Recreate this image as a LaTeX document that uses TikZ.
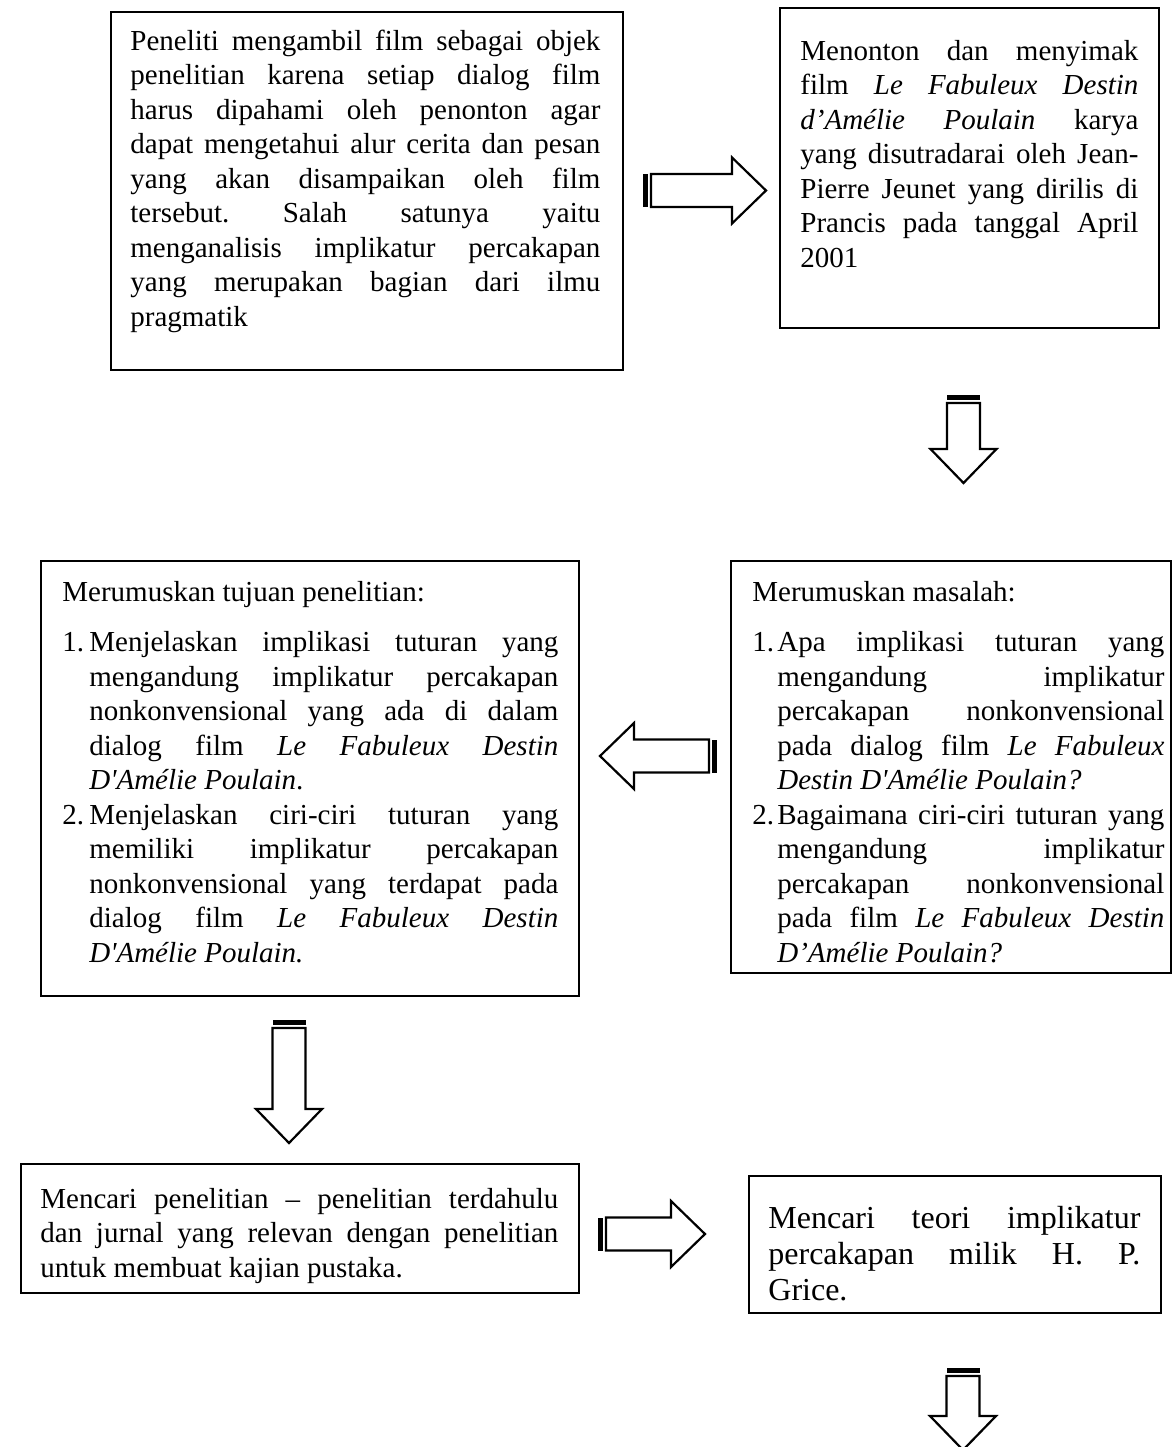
\documentclass[tikz,border=0pt]{standalone}
\usepackage{fontspec}
\setmainfont{Liberation Serif}
\newcommand{\bodyfont}{\fontsize{14.5}{17.25}\selectfont}
\newcommand{\numitem}[3]{\par\hangindent=#1\hangafter=1\makebox[#1][l]{#2}#3\par}
\tolerance=10000 \hbadness=10000
\frenchspacing
\tikzset{
  box/.style={draw, line width=1.2pt, inner sep=0pt, anchor=north west},
  txt/.style={anchor=base west, inner sep=0pt, align=justify, font=\bodyfont},
  pics/fatarrow/.style={code={
    \fill (0,-16.5) rectangle (5,16.5);
    \draw[line width=1.1pt, fill=white] (8,-16.5) -- (#1-34,-16.5) -- (#1-34,-33) -- (#1,0) -- (#1-34,33) -- (#1-34,16.5) -- (8,16.5) -- cycle;
  }}
}
\begin{document}
\begin{tikzpicture}[x=0.5pt,y=-0.5pt]
\useasboundingbox (0,0) rectangle (1172,1447);
\node[box, minimum width=256pt, minimum height=179pt] (b1) at (110,11) {};
\node[box, minimum width=189.5pt, minimum height=160pt] (b2) at (779,7) {};
\node[box, minimum width=269pt, minimum height=217.5pt] (b3) at (40,560) {};
\node[box, minimum width=220pt, minimum height=206pt] (b4) at (730,560) {};
\node[box, minimum width=279pt, minimum height=64.5pt] (b5) at (20,1163) {};
\node[box, minimum width=206pt, minimum height=68.5pt] (b6) at (748,1175) {};

\node[txt, text width=235pt] (t1) at (130,50) {Peneliti mengambil film sebagai objek\linebreak
penelitian karena setiap dialog film\linebreak
harus dipahami oleh penonton agar\linebreak
dapat mengetahui alur cerita dan pesan\linebreak
yang akan disampaikan oleh film\linebreak
tersebut. Salah satunya yaitu\linebreak
menganalisis implikatur percakapan\linebreak
yang merupakan bagian dari ilmu\linebreak
pragmatik};
\node[txt, text width=169pt] (t2) at (800,60) {Menonton dan menyimak\linebreak
film \textit{Le Fabuleux Destin\linebreak
d’Amélie Poulain} karya\linebreak
yang disutradarai oleh Jean-\linebreak
Pierre Jeunet yang dirilis di\linebreak
Prancis pada tanggal April\linebreak
2001};
\node[txt, text width=248pt] (t3) at (62,601) {Merumuskan tujuan penelitian:\par\vspace{8pt}
\numitem{13.5pt}{1.}{Menjelaskan implikasi tuturan yang\linebreak
mengandung implikatur percakapan\linebreak
nonkonvensional yang ada di dalam\linebreak
dialog film \textit{Le Fabuleux Destin\linebreak
D\textquotesingle Amélie Poulain}.}
\numitem{13.5pt}{2.}{Menjelaskan ciri-ciri tuturan yang\linebreak
memiliki implikatur percakapan\linebreak
nonkonvensional yang terdapat pada\linebreak
dialog film \textit{Le Fabuleux Destin\linebreak
D\textquotesingle Amélie Poulain.}}};
\node[txt, text width=206pt] (t4) at (752,601) {Merumuskan masalah:\par\vspace{8pt}
\numitem{12.5pt}{1.}{Apa implikasi tuturan yang\linebreak
mengandung implikatur\linebreak
percakapan nonkonvensional\linebreak
pada dialog film \textit{Le Fabuleux\linebreak
Destin D\textquotesingle Amélie Poulain?}}
\numitem{12.5pt}{2.}{Bagaimana ciri-ciri tuturan yang\linebreak
mengandung implikatur\linebreak
percakapan nonkonvensional\linebreak
pada film \textit{Le Fabuleux Destin\linebreak
D’Amélie Poulain?}}};
\node[txt, text width=259pt] (t5) at (40,1208) {Mencari penelitian – penelitian terdahulu\linebreak
dan jurnal yang relevan dengan penelitian\linebreak
untuk membuat kajian pustaka.};
\node[txt, text width=186pt, font=\fontsize{16}{18}\selectfont] (t6) at (768,1228) {Mencari teori implikatur\linebreak
percakapan milik H. P.\linebreak
Grice.};

\pic at (643,190.5) {fatarrow=123};
\pic[rotate=-90] at (963.5,395) {fatarrow=88};
\pic[rotate=180] at (717,756) {fatarrow=117};
\pic[rotate=-90] at (289,1020) {fatarrow=123};
\pic at (598,1234) {fatarrow=107};
\pic[rotate=-90] at (963,1368) {fatarrow=82};
\end{tikzpicture}
\end{document}
